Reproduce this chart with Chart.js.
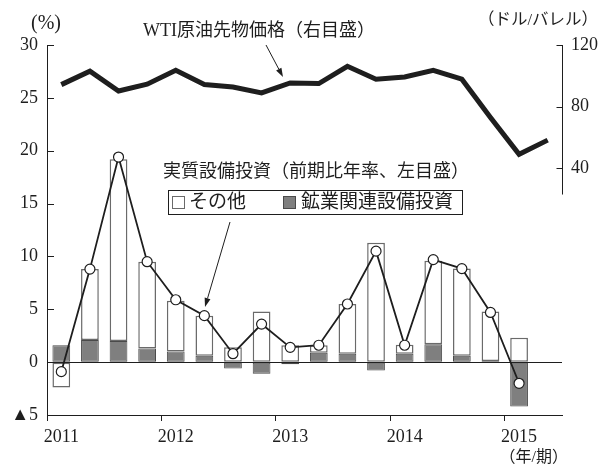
<!DOCTYPE html>
<html>
<head>
<meta charset="utf-8">
<script src="https://cdn.jsdelivr.net/npm/chart.js@4/dist/chart.umd.min.js"></script>
<style>
  html, body { margin: 0; padding: 0; background: #fff; }
  #wrap { width: 601px; height: 466px; position: relative; }
</style>
</head>
<body>
<div id="wrap"><canvas id="c" width="601" height="466"></canvas></div>
<script>
// Quarterly categories (2011 Q1 – 2015 Q2)
const quarters = ['2011Q1','2011Q2','2011Q3','2011Q4','2012Q1','2012Q2','2012Q3','2012Q4',
                  '2013Q1','2013Q2','2013Q3','2013Q4','2014Q1','2014Q2','2014Q3','2014Q4',
                  '2015Q1','2015Q2'];
const yearTicks = ['2011', '2012', '2013', '2014', '2015'];

// Real capex, q/q annualized (%), split into contributions
const mining = [1.6, 2.1, 2.0, 1.3, 1.0, 0.6, -0.6, -1.1, -0.2, 0.9, 0.8, -0.8, 0.8, 1.7, 0.6, 0.1, -4.2, null];
const other  = [-2.4, 6.7, 17.2, 8.2, 4.8, 3.8, 1.4, 4.8, 1.6, 0.7, 4.7, 11.3, 0.85, 7.9, 8.25, 4.7, 2.3, null];
const capexTotal = [-0.9, 8.8, 19.4, 9.5, 5.9, 4.4, 0.8, 3.6, 1.4, 1.6, 5.5, 10.5, 1.6, 9.7, 8.85, 4.7, -2.0, null];

// WTI crude futures (USD/bbl, right axis)
const wti = [94.3, 103.0, 90.2, 94.6, 103.6, 94.4, 92.8, 88.9, 95.4, 95.0, 106.2, 97.8, 99.3, 103.6, 97.8, 73.0, 49.1, 58.3];

const leftTicks = [30, 25, 20, 15, 10, 5, 0, -5];
const rightTicks = [120, 80, 40];

const SERIF = "'Liberation Serif', 'Noto Sans CJK JP', serif";
const INK = '#1e1e1e';
const GRAY_FILL = '#7f7f7f';
const GRAY_EDGE = '#4a4a4a';
const WHITE_EDGE = '#6a6a6a';

Chart.defaults.font.family = SERIF;
Chart.defaults.color = INK;

function arrow(ctx, x1, y1, x2, y2) {
  ctx.save();
  ctx.strokeStyle = INK; ctx.fillStyle = INK; ctx.lineWidth = 1;
  const a = Math.atan2(y2 - y1, x2 - x1);
  const hl = 9, hw = 3;
  const bx = x2 - hl * Math.cos(a), by = y2 - hl * Math.sin(a);
  ctx.beginPath(); ctx.moveTo(x1, y1); ctx.lineTo(bx, by); ctx.stroke();
  ctx.beginPath();
  ctx.moveTo(x2, y2);
  ctx.lineTo(bx + hw * Math.sin(a), by - hw * Math.cos(a));
  ctx.lineTo(bx - hw * Math.sin(a), by + hw * Math.cos(a));
  ctx.closePath(); ctx.fill();
  ctx.restore();
}

// Inward axis ticks, partial right axis line, titles, annotations and key box
const decorations = {
  id: 'decorations',
  afterDraw(chart) {
    const ctx = chart.ctx;
    const yL = chart.scales.y, yR = chart.scales.y2;
    const area = chart.chartArea;
    ctx.save();
    ctx.strokeStyle = INK; ctx.lineWidth = 1;
    // left axis ticks pointing inward
    leftTicks.forEach(v => {
      const y = Math.round(yL.getPixelForValue(v)) + 0.5;
      ctx.beginPath(); ctx.moveTo(area.left, y); ctx.lineTo(area.left + 7, y); ctx.stroke();
    });
    // right axis: short line from 120 down, ticks pointing inward
    const rx = Math.round(area.right) + 0.5;
    ctx.beginPath();
    ctx.moveTo(rx, yR.getPixelForValue(120));
    ctx.lineTo(rx, yR.getPixelForValue(23));
    ctx.stroke();
    rightTicks.forEach(v => {
      const y = Math.round(yR.getPixelForValue(v)) + 0.5;
      ctx.beginPath(); ctx.moveTo(rx - 6, y); ctx.lineTo(rx, y); ctx.stroke();
    });

    ctx.fillStyle = INK;
    ctx.textBaseline = 'middle';
    // unit labels
    ctx.font = "20px " + SERIF;
    ctx.textAlign = 'left';
    ctx.fillText('(%)', 31, 24);
    ctx.font = "16.5px " + SERIF;
    ctx.textAlign = 'right';
    ctx.fillText('（ドル/バレル）', 598, 21);
    ctx.font = "16px " + SERIF;
    ctx.fillText('（年/期）', 568, 458);

    // series annotations
    ctx.font = "18px " + SERIF;
    ctx.textAlign = 'left';
    ctx.fillText('WTI原油先物価格（右目盛）', 143, 31);
    arrow(ctx, 266, 45, 283, 77);
    ctx.fillText('実質設備投資（前期比年率、左目盛）', 163, 172);
    arrow(ctx, 230, 222, 205, 307);

    // key box
    ctx.fillStyle = '#fff';
    ctx.fillRect(168, 190, 294, 24);
    ctx.strokeStyle = INK; ctx.lineWidth = 1;
    ctx.strokeRect(168.5, 190.5, 294, 24);
    ctx.fillStyle = '#fff'; ctx.strokeStyle = WHITE_EDGE;
    ctx.fillRect(172, 196, 12, 12); ctx.strokeRect(172.5, 196.5, 12, 12);
    ctx.fillStyle = GRAY_FILL; ctx.strokeStyle = GRAY_EDGE;
    ctx.fillRect(283, 196, 12, 12); ctx.strokeRect(283.5, 196.5, 12, 12);
    ctx.fillStyle = INK;
    ctx.font = "19px " + SERIF;
    ctx.fillText('その他', 189, 203);
    ctx.fillText('鉱業関連設備投資', 301, 203);
    ctx.restore();
  }
};

new Chart(document.getElementById('c'), {
  data: {
    labels: quarters,
    datasets: [
      {
        type: 'line', label: 'WTI', data: wti, yAxisID: 'y2', order: 0,
        borderColor: INK, borderWidth: 5, pointRadius: 0, tension: 0,
        borderJoinStyle: 'miter', fill: false
      },
      {
        type: 'line', label: '実質設備投資', data: capexTotal, yAxisID: 'y', order: 0,
        borderColor: INK, borderWidth: 1.8, tension: 0, fill: false,
        pointRadius: 5, pointBackgroundColor: '#fff', pointBorderColor: INK, pointBorderWidth: 1.2
      },
      {
        type: 'bar', label: '鉱業関連設備投資', data: mining, yAxisID: 'y', order: 1, stack: 's',
        backgroundColor: GRAY_FILL, borderColor: GRAY_EDGE, borderWidth: 1, borderSkipped: false,
        barPercentage: 0.62, categoryPercentage: 1
      },
      {
        type: 'bar', label: 'その他', data: other, yAxisID: 'y', order: 2, stack: 's',
        backgroundColor: '#fff', borderColor: WHITE_EDGE, borderWidth: 1.5, borderSkipped: false,
        barPercentage: 0.62, categoryPercentage: 1
      }
    ]
  },
  options: {
    responsive: false,
    animation: false,
    layout: { padding: { top: 45, left: 0, right: 0, bottom: 0 } },
    plugins: { legend: { display: false }, tooltip: { enabled: false } },
    scales: {
      x: {
        type: 'category', stacked: true, offset: true,
        afterFit: s => { s.height = 51; },
        grid: {
          offset: true, drawOnChartArea: false, tickLength: 6, lineWidth: 1,
          color: c => (c.index % 4 === 0 && c.index <= 16) ? INK : 'rgba(0,0,0,0)'
        },
        border: { display: true, color: INK, width: 1 },
        ticks: {
          autoSkip: false, maxRotation: 0, padding: 5,
          font: { size: 18 }, color: INK,
          callback: (v, i) => (i % 4 === 0 && i / 4 < yearTicks.length) ? yearTicks[i / 4] : ''
        }
      },
      y: {
        position: 'left', stacked: true, min: -5, max: 30,
        afterFit: s => { s.width = 47; },
        grid: {
          drawTicks: false, lineWidth: 1,
          color: c => (c.tick && c.tick.value === 0) ? INK : 'rgba(0,0,0,0)'
        },
        border: { display: true, color: INK, width: 1 },
        ticks: {
          stepSize: 5, padding: 9, font: { size: 18 }, color: INK,
          callback: v => v < 0 ? '▲' + Math.abs(v) : String(v)
        }
      },
      y2: {
        position: 'right', min: -120, max: 120,
        afterFit: s => { s.width = 39; },
        grid: { drawOnChartArea: false, drawTicks: false, color: 'rgba(0,0,0,0)' },
        border: { display: false },
        ticks: {
          stepSize: 40, padding: 9, font: { size: 18 }, color: INK,
          callback: v => rightTicks.includes(v) ? String(v) : ''
        }
      }
    }
  },
  plugins: [decorations]
});
</script>
</body>
</html>
